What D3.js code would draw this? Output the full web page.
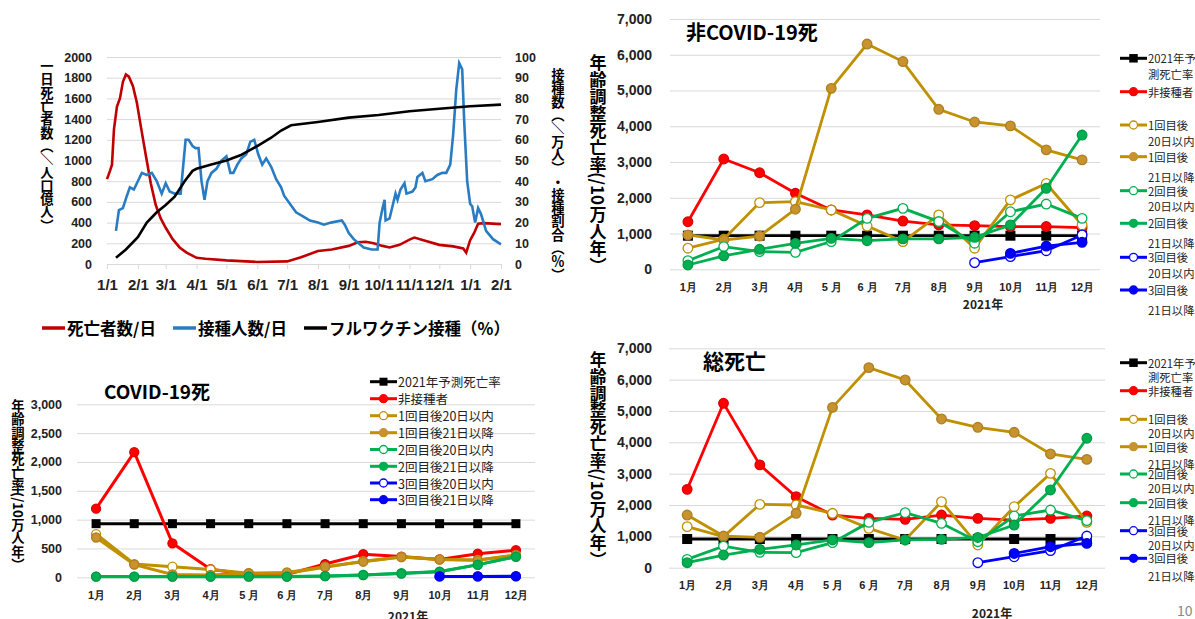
<!DOCTYPE html>
<html>
<head>
<meta charset="utf-8">
<script src="https://d3js.org/d3.v7.min.js"></script>
<style>
  body { margin: 0; background: #fff; }
  svg { display: block; font-family: "Noto Sans CJK JP", "Noto Sans", sans-serif; }
</style>
</head>
<body>
<svg id="chart" width="1195" height="619"></svg>
<script>
// ---- daily chart (top left): [date, value] ----
const deathsPerDay = [
  ["2021-01-01",820],["2021-01-04",900],["2021-01-06",960],["2021-01-08",1300],["2021-01-11",1520],
  ["2021-01-14",1600],["2021-01-17",1760],["2021-01-20",1830],["2021-01-23",1810],["2021-01-27",1720],
  ["2021-01-31",1560],["2021-02-04",1330],["2021-02-09",1050],["2021-02-14",780],["2021-02-19",570],
  ["2021-02-24",440],["2021-03-01",350],["2021-03-08",240],["2021-03-15",160],["2021-03-22",110],
  ["2021-04-01",60],["2021-04-10",50],["2021-05-01",35],["2021-06-01",20],["2021-07-01",25],
  ["2021-07-15",65],["2021-08-01",125],["2021-08-15",140],["2021-09-01",175],["2021-09-10",210],
  ["2021-09-18",215],["2021-09-26",200],["2021-10-05",175],["2021-10-12",160],["2021-10-22",185],
  ["2021-11-02",240],["2021-11-06",255],["2021-11-15",230],["2021-12-01",185],["2021-12-15",170],
  ["2021-12-25",150],["2021-12-28",110],["2022-01-01",230],["2022-01-05",300],["2022-01-09",390],
  ["2022-01-15",395],["2022-02-01",385]
];
const vaccinationsPerDay = [
  ["2021-01-10",16],["2021-01-13",26],["2021-01-17",27],["2021-01-21",33],["2021-01-24",37],
  ["2021-01-28",36],["2021-02-01",40],["2021-02-05",44],["2021-02-10",43],["2021-02-15",44],
  ["2021-02-20",40],["2021-02-25",34],["2021-03-01",39],["2021-03-05",35],["2021-03-10",34],
  ["2021-03-16",34],["2021-03-21",60],["2021-03-24",60],["2021-03-28",57],["2021-03-31",56],
  ["2021-04-03",56],["2021-04-06",40],["2021-04-09",31],["2021-04-12",40],["2021-04-16",44],
  ["2021-04-21",46],["2021-04-26",50],["2021-05-01",52],["2021-05-05",44],["2021-05-08",44],
  ["2021-05-12",48],["2021-05-16",51],["2021-05-21",53],["2021-05-25",59],["2021-05-29",60],
  ["2021-06-02",53],["2021-06-06",48],["2021-06-10",51],["2021-06-15",47],["2021-06-20",41],
  ["2021-06-25",37],["2021-06-28",33],["2021-07-04",29],["2021-07-10",25],["2021-07-17",23],
  ["2021-07-24",21],["2021-08-01",20],["2021-08-07",19],["2021-08-14",20],["2021-08-25",21],
  ["2021-08-28",19],["2021-09-01",15],["2021-09-06",12],["2021-09-16",8],["2021-09-24",7],
  ["2021-09-30",7],["2021-10-02",20],["2021-10-05",27],["2021-10-07",31],["2021-10-08",21],
  ["2021-10-12",22],["2021-10-15",28],["2021-10-18",34],["2021-10-20",31],["2021-10-23",36],
  ["2021-10-27",39],["2021-10-29",34],["2021-11-04",35],["2021-11-07",37],["2021-11-09",42],
  ["2021-11-14",44],["2021-11-17",40],["2021-11-24",41],["2021-11-29",43],["2021-12-04",44],
  ["2021-12-08",44],["2021-12-12",48],["2021-12-15",63],["2021-12-18",84],["2021-12-21",97],
  ["2021-12-24",94],["2021-12-26",69],["2021-12-29",40],["2022-01-01",29],["2022-01-03",28],
  ["2022-01-06",20],["2022-01-09",27],["2022-01-12",24],["2022-01-17",16],["2022-01-24",12],
  ["2022-02-01",9.5]
];
const fullyVaccinated = [
  ["2021-01-10",3],["2021-01-20",7],["2021-02-01",13],["2021-02-10",20],["2021-02-20",25],
  ["2021-03-01",28.5],["2021-03-10",32.5],["2021-03-20",40],["2021-03-28",45],["2021-04-01",46],
  ["2021-04-15",48],["2021-05-01",50],["2021-05-15",52.5],["2021-06-01",57],["2021-06-15",61],
  ["2021-06-25",64.5],["2021-07-05",67],["2021-08-01",68.6],["2021-09-01",70.7],["2021-10-01",72],
  ["2021-11-01",73.8],["2021-12-01",75],["2022-01-01",76.2],["2022-02-01",77]
];
const dailyTickDates = ["2021-01-01","2021-02-01","2021-03-01","2021-04-01","2021-05-01","2021-06-01",
  "2021-07-01","2021-08-01","2021-09-01","2021-10-01","2021-11-01","2021-12-01","2022-01-01","2022-02-01"];
const dailyTickLabels = ["1/1","2/1","3/1","4/1","5/1","6/1","7/1","8/1","9/1","10/1","11/1","12/1","1/1","2/1"];
const deathTicks = [0,200,400,600,800,1000,1200,1400,1600,1800,2000];
const vaccTicks = [0,10,20,30,40,50,60,70,80,90,100];
const dailyNames = ["死亡者数/日","接種人数/日","フルワクチン接種（%）"];

// ---- monthly charts ----
const months = ["1月","2月","3月","4月","5 月","6 月","7月","8月","9月","10月","11月","12月"];
const seriesNames = ["2021年予測死亡率","非接種者","1回目後20日以内","1回目後21日以降",
  "2回目後20日以内","2回目後21日以降","3回目後20日以内","3回目後21日以降"];
const wrappedNames = [["2021年予","測死亡率"],["非接種者"],["1回目後","20日以内"],["1回目後","21日以降"],
  ["2回目後","20日以内"],["2回目後","21日以降"],["3回目後","20日以内"],["3回目後","21日以降"]];
const covidTicks = [0,500,1000,1500,2000,2500,3000];
const rateTicks = [0,1000,2000,3000,4000,5000,6000,7000];

const covidDeaths = [
  [930,930,930,930,930,930,930,930,930,930,930,930],
  [1190,2170,590,140,50,50,230,400,360,310,410,470],
  [750,230,185,135,70,70,175,280,350,310,300,385],
  [690,220,50,40,70,85,185,270,350,310,295,385],
  [10,10,10,10,10,10,20,40,70,100,220,360],
  [12,12,12,12,12,12,22,40,65,95,215,355],
  [null,null,null,null,null,null,null,null,null,15,15,15],
  [null,null,null,null,null,null,null,null,null,15,15,20]
];
const nonCovidDeaths = [
  [940,940,940,940,940,940,940,940,940,940,940,940],
  [1330,3085,2700,2125,1660,1520,1350,1240,1220,1195,1195,1165],
  [590,840,1865,1890,1660,1210,775,1520,590,1940,2400,1240],
  [960,820,930,1680,5060,6300,5810,4475,4120,4010,3340,3060],
  [240,635,495,475,775,1425,1705,1335,730,1610,1825,1425],
  [120,375,560,725,865,800,850,850,895,1240,2265,3755],
  [null,null,null,null,null,null,null,null,185,355,520,960],
  [null,null,null,null,null,null,null,null,null,445,650,755]
];
const allDeaths = [
  [915,915,915,915,915,915,915,915,915,915,915,915],
  [2500,5245,3280,2265,1680,1575,1545,1680,1575,1520,1575,1650],
  [1310,990,2020,2000,1735,1255,885,2105,725,1945,3010,1445],
  [1680,1010,970,1735,5115,6385,5990,4745,4480,4320,3630,3455],
  [265,690,490,480,800,1445,1755,1415,830,1650,1840,1500],
  [160,405,585,725,885,800,885,905,965,1360,2480,4130],
  [null,null,null,null,null,null,null,null,160,350,545,1010],
  [null,null,null,null,null,null,null,null,null,455,670,775]
];

// styles for the eight monthly series
const seriesStyle = [
  { color: "#000000", fill: "#000000", square: true },
  { color: "#ff0000", fill: "#ff0000" },
  { color: "#bf9000", fill: "#ffffff" },
  { color: "#bf9000", fill: "#c8922c" },
  { color: "#00b050", fill: "#ffffff" },
  { color: "#00b050", fill: "#00b050" },
  { color: "#0000ff", fill: "#ffffff" },
  { color: "#0000ff", fill: "#0000ff" }
];

const svg = d3.select("#chart");
svg.append("rect").attr("width", 1195).attr("height", 619).attr("fill", "#fff");
const parse = d3.timeParse("%Y-%m-%d");

// vertical (tategaki) label: CJK upright, latin runs turned sideways
function verticalLabel(x, y, text, size) {
  const g = svg.append("g").attr("font-size", size).attr("font-weight", "bold").attr("fill", "#000");
  let cur = y;
  const tokens = text.match(/[\x20-\x7e／]+|./gu);
  tokens.forEach(t => {
    if (/^[\x20-\x7e／]+$/.test(t)) {
      const el = g.append("text")
        .attr("transform", `translate(${x},${cur}) rotate(90)`)
        .attr("dominant-baseline", "central").text(t);
      cur += el.node().getComputedTextLength();
    } else {
      const ch = t === "（" ? "︵" : t === "）" ? "︶" : t;
      g.append("text").attr("x", x).attr("y", cur + size / 2)
        .attr("text-anchor", "middle").attr("dominant-baseline", "central").text(ch);
      cur += size;
    }
  });
}

// ---------- top left: daily deaths and vaccinations ----------
function drawDaily() {
  const g = svg.append("g");
  const left = 107, right = 501, top = 57, bottom = 264;
  const x = d3.scaleTime().domain([parse("2021-01-01"), parse("2022-02-01")]).range([left, right]);
  const yL = d3.scaleLinear().domain([0, 2000]).range([bottom, top]);
  const yR = d3.scaleLinear().domain([0, 100]).range([bottom, top]);

  g.append("g").attr("transform", `translate(${left},0)`)
    .call(d3.axisLeft(yL).tickValues(deathTicks).tickSize(-(right - left)).tickPadding(15).tickFormat(d3.format("d")))
    .call(a => a.select(".domain").remove())
    .call(a => a.selectAll("line").attr("stroke", "#d9d9d9"))
    .call(a => a.selectAll("text").attr("font-size", 12.5).attr("font-weight", "bold").attr("fill", "#222").style("font-family", "inherit"));

  g.append("g").attr("transform", `translate(${right},0)`)
    .call(d3.axisRight(yR).tickValues(vaccTicks).tickSize(0).tickPadding(14).tickFormat(d3.format("d")))
    .call(a => a.select(".domain").remove())
    .call(a => a.selectAll("text").attr("font-size", 12.5).attr("font-weight", "bold").attr("fill", "#222").style("font-family", "inherit"));

  g.append("g").attr("transform", `translate(0,${bottom})`)
    .call(d3.axisBottom(x).tickValues(dailyTickDates.map(parse)).tickSize(5).tickPadding(10)
      .tickFormat((d, i) => dailyTickLabels[i]))
    .call(a => a.select(".domain").attr("stroke", "#d9d9d9"))
    .call(a => a.selectAll("line").attr("stroke", "#d9d9d9"))
    .call(a => a.selectAll("text").attr("font-size", 15).attr("font-weight", "bold").attr("fill", "#222").style("font-family", "inherit"));

  const lineL = d3.line().x(d => x(parse(d[0]))).y(d => yL(d[1]));
  const lineR = d3.line().x(d => x(parse(d[0]))).y(d => yR(d[1]));
  g.append("path").datum(deathsPerDay).attr("d", lineL).attr("fill", "none").attr("stroke", "#c00000").attr("stroke-width", 2.6);
  g.append("path").datum(vaccinationsPerDay).attr("d", lineR).attr("fill", "none").attr("stroke", "#2a7cc2").attr("stroke-width", 2.6);
  g.append("path").datum(fullyVaccinated).attr("d", lineR).attr("fill", "none").attr("stroke", "#000").attr("stroke-width", 2.6);

  verticalLabel(47, 59, "一日死亡者数（／人口億人）", 13.3);
  verticalLabel(558, 68, "接種数（／万人）・接種割合（％）", 13.3);

  // legend
  const colors = ["#c00000", "#2a7cc2", "#000"];
  const xs = [42, 173, 304];
  dailyNames.forEach((name, i) => {
    g.append("line").attr("x1", xs[i]).attr("x2", xs[i] + 23).attr("y1", 328).attr("y2", 328)
      .attr("stroke", colors[i]).attr("stroke-width", 3.5);
    g.append("text").attr("x", xs[i] + 25).attr("y", 328).attr("dominant-baseline", "central")
      .attr("font-size", 16.5).attr("font-weight", "bold").text(name);
  });
}

// ---------- monthly panels ----------
function drawMonthly(p) {
  const g = svg.append("g");
  const x = d3.scalePoint().domain(months).range([p.x0, p.x1]).padding(0.5);
  const y = d3.scaleLinear().domain([0, p.max]).range([p.bottom, p.top]);

  g.append("g").attr("transform", `translate(${p.x0},0)`)
    .call(d3.axisLeft(y).tickValues(p.ticks).tickSize(-(p.x1 - p.x0)).tickPadding(p.x0 - p.labelRight)
      .tickFormat(d3.format(",")))
    .call(a => a.select(".domain").remove())
    .call(a => a.selectAll("line").attr("stroke", "#d9d9d9"))
    .call(a => a.selectAll("text").attr("font-size", p.tickFont).attr("font-weight", "bold").attr("fill", "#222").style("font-family", "inherit"));

  g.append("g").attr("transform", `translate(0,${p.bottom})`)
    .call(d3.axisBottom(x).tickSize(0))
    .call(a => a.select(".domain").remove())
    .call(a => a.selectAll("text").attr("y", p.monthY - p.bottom).attr("dy", "0.35em")
      .attr("font-size", p.monthFont).attr("font-weight", "bold").attr("fill", "#222").style("font-family", "inherit"));

  g.append("text").attr("x", p.yearX).attr("y", p.yearY).attr("text-anchor", "middle")
    .attr("dominant-baseline", "central").attr("font-size", 12).attr("font-weight", "bold").attr("fill", "#222")
    .text("2021年");

  g.append("text").attr("x", p.titleX).attr("y", p.titleY).attr("text-anchor", p.titleAnchor)
    .attr("dominant-baseline", "central").attr("font-size", p.titleFont).attr("font-weight", "bold")
    .text(p.title);

  verticalLabel(p.labelX, p.labelY, "年齢調整死亡率(/10万人年）", p.labelFont);

  const line = d3.line().defined(d => d.v != null).x(d => x(d.m)).y(d => y(d.v));
  p.data.forEach((vals, s) => {
    const st = seriesStyle[s];
    const pts = vals.map((v, i) => ({ m: months[i], v }));
    g.append("path").datum(pts).attr("d", line).attr("fill", "none")
      .attr("stroke", st.color).attr("stroke-width", p.lineW);
    const shown = pts.filter(d => d.v != null);
    if (st.square) {
      g.selectAll(null).data(shown).join("rect")
        .attr("x", d => x(d.m) - p.sq / 2).attr("y", d => y(d.v) - p.sq / 2)
        .attr("width", p.sq).attr("height", p.sq).attr("fill", st.fill);
    } else {
      g.selectAll(null).data(shown).join("circle")
        .attr("cx", d => x(d.m)).attr("cy", d => y(d.v)).attr("r", p.r)
        .attr("fill", st.fill).attr("stroke", st.fill === "#ffffff" ? st.color : d3.color(st.fill).darker(0.4))
        .attr("stroke-width", 1.3);
    }
  });

  // legend
  const lg = g.append("g");
  p.legendRows.forEach((ry, s) => {
    const st = seriesStyle[s];
    const cx = (p.legX0 + p.legX1) / 2;
    lg.append("line").attr("x1", p.legX0).attr("x2", p.legX1).attr("y1", ry).attr("y2", ry)
      .attr("stroke", st.color).attr("stroke-width", 3);
    if (st.square) {
      lg.append("rect").attr("x", cx - p.legSq / 2).attr("y", ry - p.legSq / 2)
        .attr("width", p.legSq).attr("height", p.legSq).attr("fill", st.fill);
    } else {
      lg.append("circle").attr("cx", cx).attr("cy", ry).attr("r", p.legR)
        .attr("fill", st.fill).attr("stroke", st.fill === "#ffffff" ? st.color : st.fill).attr("stroke-width", 1.3);
    }
    const lines = p.wrap ? wrappedNames[s] : [seriesNames[s]];
    lines.forEach((t, k) => {
      const dy = k === 0 ? 0 : (t.startsWith("21") ? p.secondLate : p.secondEarly);
      lg.append("text").attr("x", p.legText).attr("y", ry + dy)
        .attr("dominant-baseline", "central").attr("font-size", p.legFont).attr("fill", "#222")
        .text(t);
    });
  });
}

drawDaily();

drawMonthly({
  data: covidDeaths, max: 3000, ticks: covidTicks,
  x0: 77, x1: 535, top: 404.3, bottom: 577.3, labelRight: 62, tickFont: 12.5,
  monthY: 595, monthFont: 11, yearX: 408, yearY: 615,
  title: "COVID-19死", titleX: 157, titleY: 390, titleAnchor: "middle", titleFont: 19,
  labelX: 18, labelY: 399, labelFont: 13.3,
  lineW: 3, r: 4.5, sq: 9,
  legendRows: [381.7, 398.7, 415.7, 432.7, 449.5, 466.3, 483, 499.7],
  legX0: 370, legX1: 397, legText: 398, legR: 4, legSq: 8, legFont: 12.5, wrap: false
});

drawMonthly({
  data: nonCovidDeaths, max: 7000, ticks: rateTicks,
  x0: 670, x1: 1100, top: 19, bottom: 269.3, labelRight: 652, tickFont: 14,
  monthY: 287, monthFont: 11, yearX: 983, yearY: 303.5,
  title: "非COVID-19死", titleX: 686, titleY: 31.5, titleAnchor: "start", titleFont: 20,
  labelX: 598, labelY: 53, labelFont: 17,
  lineW: 2.8, r: 4.8, sq: 10,
  legendRows: [58.3, 91.7, 125, 156.7, 190.7, 223.3, 257.3, 290],
  legX0: 1120, legX1: 1147, legText: 1148, legR: 4, legSq: 8.5, legFont: 11.3,
  wrap: true, secondEarly: 15.5, secondLate: 20
});

drawMonthly({
  data: allDeaths, max: 7000, ticks: rateTicks,
  x0: 669, x1: 1105, top: 348.3, bottom: 567.7, labelRight: 652, tickFont: 14,
  monthY: 585, monthFont: 11, yearX: 992, yearY: 612.7,
  title: "総死亡", titleX: 703, titleY: 360, titleAnchor: "start", titleFont: 21,
  labelX: 598, labelY: 351, labelFont: 16.7,
  lineW: 2.8, r: 4.8, sq: 10,
  legendRows: [362.7, 390.7, 419.3, 446.7, 474, 502.7, 530.7, 558.3],
  legX0: 1120, legX1: 1147, legText: 1148, legR: 4, legSq: 8.5, legFont: 11.3,
  wrap: true, secondEarly: 14, secondLate: 17.5
});

svg.append("text").attr("x", 1177).attr("y", 610).attr("dominant-baseline", "central")
  .attr("font-size", 14).attr("fill", "#888").text("10");
</script>
</body>
</html>
